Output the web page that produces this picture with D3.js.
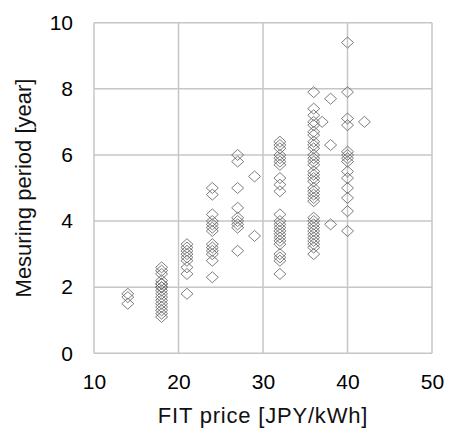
<!DOCTYPE html>
<html><head><meta charset="utf-8">
<script src="https://cdn.jsdelivr.net/npm/d3@7"></script>
<style>body{margin:0;background:#fff;} svg{display:block;} text{font-family:"Liberation Sans",Arial,sans-serif;}</style>
</head><body>
<svg id="c" width="449" height="430"></svg>
<script>
const prices = [14, 18, 21, 24, 27, 29, 32, 36, 37, 38, 40, 42];
const periods = [
  [1.8, 1.7, 1.5],
  [2.6, 2.5, 2.4, 2.2, 2.1, 2.1, 2.0, 2.0, 1.9, 1.8, 1.7, 1.6, 1.5, 1.4, 1.3, 1.2, 1.1],
  [3.3, 3.2, 3.1, 3.0, 2.9, 2.8, 2.6, 2.4, 1.8],
  [5.0, 4.8, 4.2, 4.0, 3.9, 3.8, 3.7, 3.3, 3.2, 3.1, 3.0, 2.8, 2.3],
  [6.0, 5.8, 5.0, 4.4, 4.1, 4.0, 3.9, 3.8, 3.1],
  [5.35, 3.55],
  [6.4, 6.3, 6.2, 6.0, 5.9, 5.8, 5.7, 5.3, 5.1, 4.9, 4.2, 4.0, 3.9, 3.8, 3.7, 3.6, 3.5, 3.4, 3.3, 3.0, 2.9, 2.8, 2.4],
  [7.9, 7.4, 7.2, 7.0, 6.9, 6.7, 6.6, 6.4, 6.3, 6.2, 6.0, 5.9, 5.8, 5.7, 5.5, 5.4, 5.3, 5.2, 5.0, 4.9, 4.8, 4.7, 4.6, 4.1, 4.0, 3.9, 3.8, 3.7, 3.6, 3.5, 3.4, 3.3, 3.2, 3.0],
  [7.0],
  [7.7, 6.3, 3.9],
  [9.4, 7.9, 7.1, 6.9, 6.1, 6.0, 5.9, 5.8, 5.5, 5.3, 5.0, 4.7, 4.3, 3.7],
  [7.0]
];
const xTicks = [10, 20, 30, 40, 50];
const yTicks = [0, 2, 4, 6, 8, 10];
const xTitle = "FIT price [JPY/kWh]";
const yTitle = "Mesuring period [year]";

const points = [];
prices.forEach((p, i) => periods[i].forEach(v => points.push({x: p, y: v})));

const svg = d3.select("#c");
const L = 94, R = 432, T = 22.7, B = 353.3;
const x = d3.scaleLinear().domain([10, 50]).range([L, R]);
const y = d3.scaleLinear().domain([0, 10]).range([B, T]);
const grid = "#c6c6c6";

const g = svg.append("g");
g.selectAll("line.v").data(xTicks).join("line")
  .attr("x1", d => x(d)).attr("x2", d => x(d)).attr("y1", T).attr("y2", B)
  .attr("stroke", grid).attr("stroke-width", 1.5);
g.selectAll("line.h").data(yTicks).join("line")
  .attr("y1", d => y(d)).attr("y2", d => y(d)).attr("x1", L).attr("x2", R)
  .attr("stroke", grid).attr("stroke-width", 1.5);

const xa = svg.append("g").attr("transform", `translate(0,${B})`)
  .call(d3.axisBottom(x).tickValues(xTicks).tickSize(0).tickPadding(21));
xa.select(".domain").remove();
xa.selectAll("text").attr("font-size", 21).attr("fill", "#000")
  .attr("font-family", "Liberation Sans, Arial, sans-serif");
const ya = svg.append("g").attr("transform", `translate(${L},0)`)
  .call(d3.axisLeft(y).tickValues(yTicks).tickSize(0).tickPadding(21));
ya.select(".domain").remove();
ya.selectAll("text").attr("font-size", 21).attr("fill", "#000")
  .attr("font-family", "Liberation Sans, Arial, sans-serif");

svg.append("g").selectAll("path").data(points).join("path")
  .attr("d", d => {
    const cx = x(d.x), cy = y(d.y), w = 6, h = 5.5;
    return `M${cx},${cy - h}L${cx + w},${cy}L${cx},${cy + h}L${cx - w},${cy}Z`;
  })
  .attr("fill", "none").attr("stroke", "#666").attr("stroke-width", 1).attr("stroke-opacity", 0.85);

svg.append("text").attr("x", (L + R) / 2).attr("y", 423).attr("text-anchor", "middle")
  .attr("font-size", 22).attr("letter-spacing", 0.8).attr("fill", "#111").text(xTitle);
svg.append("text").attr("transform", `translate(31,${(T + B) / 2}) rotate(-90)`)
  .attr("text-anchor", "middle").attr("font-size", 22).attr("fill", "#111").text(yTitle);
</script>
</body></html>
